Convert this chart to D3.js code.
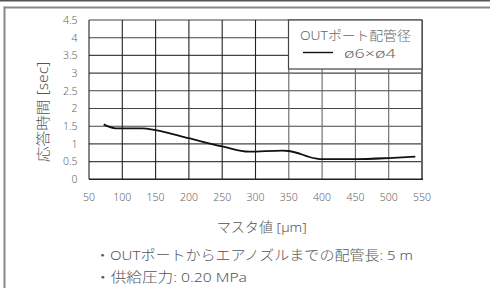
<!DOCTYPE html>
<html><head><meta charset="utf-8">
<script src="https://cdn.jsdelivr.net/npm/d3@7"></script>
<style>
html,body{margin:0;padding:0;background:#fff;}
svg{display:block;font-family:"Noto Sans","Noto Sans CJK JP",sans-serif;font-weight:300;}
</style></head>
<body>
<svg id="c" width="490" height="288"></svg>
<script>
const xTicks = [50,100,150,200,250,300,350,400,450,500,550];
const yTicks = [0,0.5,1,1.5,2,2.5,3,3.5,4,4.5];
const masterX = [72, 90, 130, 150, 200, 250, 290, 340, 350, 390, 400, 450, 500, 540];
const respY = [1.55, 1.44, 1.44, 1.39, 1.16, 0.93, 0.78, 0.81, 0.80, 0.59, 0.57, 0.57, 0.60, 0.64];
const xTitle = "マスタ値 [µm]";
const yTitle = "応答時間 [sec]";
const legendTitle = "OUTポート配管径";
const legendLabel = "ø6×ø4";
const notes = ["・OUTポートからエアノズルまでの配管長: 5 m", "・供給圧力: 0.20 MPa"];

const svg = d3.select("#c");
const L = 89, R = 422, T = 20, B = 179.3;
const x = d3.scaleLinear().domain([50,550]).range([L,R]);
const y = d3.scaleLinear().domain([0,4.5]).range([B,T]);

// outer frame
svg.append("line").attr("x1",0).attr("x2",490).attr("y1",0.8).attr("y2",0.8).attr("stroke","#555").attr("stroke-width",1.6);
svg.append("line").attr("x1",4).attr("x2",490).attr("y1",7.5).attr("y2",7.5).attr("stroke","#888").attr("stroke-width",2);
svg.append("line").attr("x1",4.5).attr("x2",4.5).attr("y1",6.5).attr("y2",288).attr("stroke","#888").attr("stroke-width",2);

// grid
const g = svg.append("g");
g.selectAll(".hg").data(yTicks.filter(d=>d>0)).join("line")
  .attr("x1",L).attr("x2",R).attr("y1",d=>y(d)).attr("y2",d=>y(d))
  .attr("stroke","#444").attr("stroke-width",1.1);
g.selectAll(".vg").data(xTicks).join("line")
  .attr("x1",d=>x(d)).attr("x2",d=>x(d)).attr("y1",T).attr("y2",B)
  .attr("stroke",d=> (d>=350) ? "#666" : "#222").attr("stroke-width",d=>d===550?2:1.1);
g.append("line").attr("x1",L).attr("x2",R+1).attr("y1",B).attr("y2",B).attr("stroke","#222").attr("stroke-width",1.4);

// tick labels
svg.append("g").selectAll("text").data(yTicks).join("text")
  .attr("x",77.5).attr("y",d=>y(d)+3.8).attr("text-anchor","end")
  .attr("font-size",10.5).attr("fill","#666").text(d=>d);
svg.append("g").selectAll("text").data(xTicks).join("text")
  .attr("x",d=>x(d)).attr("y",200.5).attr("text-anchor","middle")
  .attr("font-size",10.5).attr("fill","#666").text(d=>d);

// axis titles
svg.append("text").attr("x",216.7).attr("y",231.5)
  .attr("textLength",90).attr("lengthAdjust","spacingAndGlyphs")
  .attr("font-size",13.5).attr("fill","#555").text(xTitle);
svg.append("text").attr("transform","translate(48,162.3) rotate(-90)")
  .attr("textLength",100.6).attr("lengthAdjust","spacingAndGlyphs")
  .attr("font-size",14).attr("fill","#555").text(yTitle);

// line
const line = d3.line().x((d,i)=>x(masterX[i])).y(d=>y(d)).curve(d3.curveMonotoneX);
svg.append("path").attr("d",line(respY)).attr("fill","none").attr("stroke","#111").attr("stroke-width",1.8);

// legend
const lg = svg.append("g");
lg.append("rect").attr("x",288.5).attr("y",T).attr("width",R-288.5).attr("height",49)
  .attr("fill","#fff").attr("stroke","#444").attr("stroke-width",1.2);
lg.append("text").attr("x",300).attr("y",39.5)
  .attr("textLength",110.7).attr("lengthAdjust","spacingAndGlyphs")
  .attr("font-size",13).attr("fill","#666").text(legendTitle);
lg.append("line").attr("x1",303).attr("x2",333).attr("y1",52.5).attr("y2",52.5).attr("stroke","#111").attr("stroke-width",1.4);
lg.append("text").attr("x",344).attr("y",57.5)
  .attr("textLength",51.7).attr("lengthAdjust","spacingAndGlyphs")
  .attr("font-size",13).attr("fill","#666").text(legendLabel);

// notes
const noteLens = [318, 152];
svg.append("g").selectAll("text").data(notes).join("text")
  .attr("x",95).attr("y",(d,i)=>260+i*21.7)
  .attr("textLength",(d,i)=>noteLens[i]).attr("lengthAdjust","spacingAndGlyphs")
  .attr("font-size",13.5).attr("fill","#555").text(d=>d);
</script>
</body></html>
